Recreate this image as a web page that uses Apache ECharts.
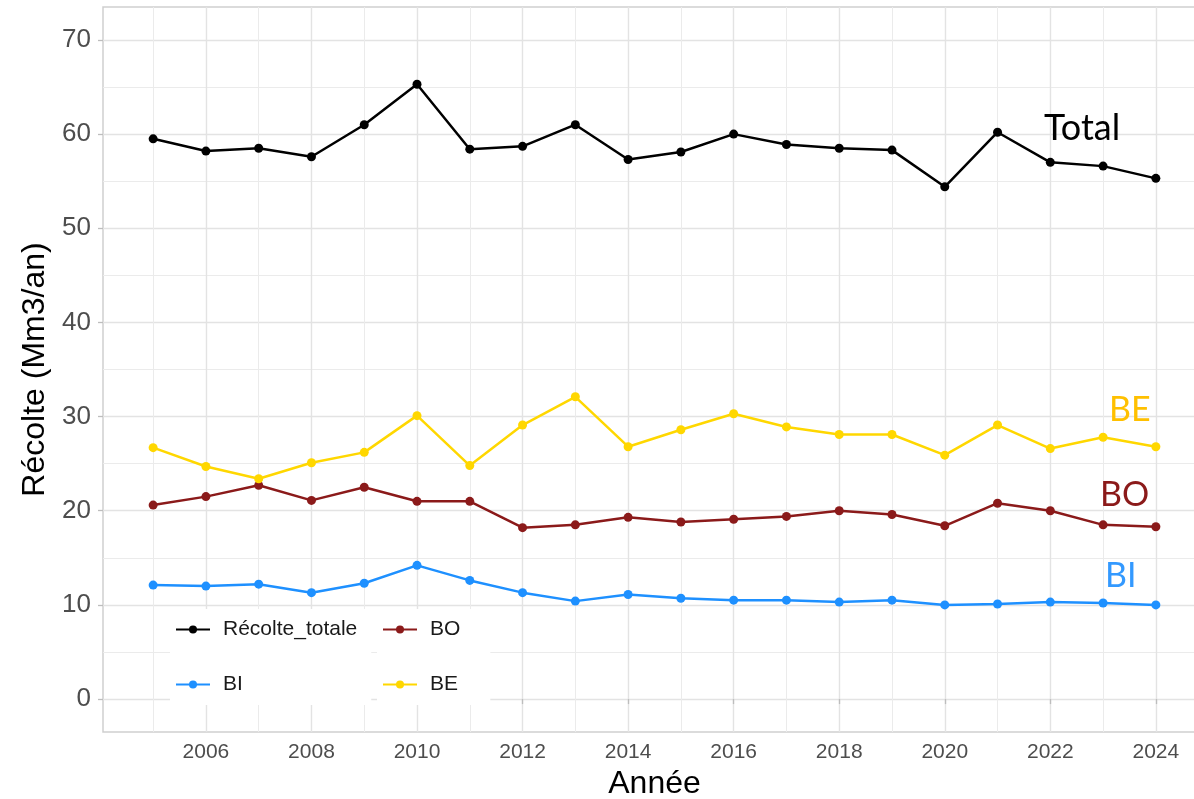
<!DOCTYPE html>
<html>
<head>
<meta charset="utf-8">
<script src="https://cdn.jsdelivr.net/npm/echarts@6/dist/echarts.min.js"></script>
<style>
html,body{margin:0;padding:0;background:#fff;}
#c{width:1194px;height:799px;}
</style>
</head>
<body>
<div id="c"></div>
<script>
const years = [2005,2006,2007,2008,2009,2010,2011,2012,2013,2014,2015,2016,2017,2018,2019,2020,2021,2022,2023,2024];
const totale = [59.5,58.2,58.5,57.6,61.0,65.3,58.4,58.7,61.0,57.3,58.1,60.0,58.9,58.5,58.3,54.4,60.2,57.0,56.6,55.3];
const be = [26.7,24.7,23.4,25.1,26.2,30.1,24.8,29.1,32.1,26.8,28.6,30.3,28.9,28.1,28.1,25.9,29.1,26.6,27.8,26.8];
const bo = [20.6,21.5,22.7,21.1,22.5,21.0,21.0,18.2,18.5,19.3,18.8,19.1,19.4,20.0,19.6,18.4,20.8,20.0,18.5,18.3];
const bi = [12.1,12.0,12.2,11.3,12.3,14.2,12.6,11.3,10.4,11.1,10.7,10.5,10.5,10.3,10.5,10.0,10.1,10.3,10.2,10.0];
const xMajorTicks = [2006,2008,2010,2012,2014,2016,2018,2020,2022,2024];
const xAllTicks = years;
const yMajorTicks = [0,10,20,30,40,50,60,70];
const yAllTicks = [0,5,10,15,20,25,30,35,40,45,50,55,60,65,70];

const pair = arr => years.map((y,i)=>[y,arr[i]]);
const chart = echarts.init(document.getElementById('c'));
const FONT = '"Liberation Sans", Arial, sans-serif';
const xMin = 2004.05, xMax = 2024.95, yMin = -3.5, yMax = 73.5;

function mkSeries(name, data, color){
  return {name, type:'line', data:pair(data), xAxisIndex:0, yAxisIndex:0,
    symbol:'circle', symbolSize:9, showSymbol:true,
    lineStyle:{color, width:2.5}, itemStyle:{color}, emphasis:{disabled:true}, z:3};
}

chart.setOption({
  animation:false,
  backgroundColor:'#fff',
  grid:{left:103, top:7, width:1103, height:725, outerBoundsMode:'none', containLabel:false,
        show:true, borderColor:'#CFCFCF', borderWidth:1.5, backgroundColor:'transparent'},
  xAxis:[
    {type:'value', min:xMin, max:xMax, position:'bottom',
     axisLine:{show:false}, axisTick:{show:false, customValues:xAllTicks},
     axisLabel:{show:false},
     splitLine:{show:true, lineStyle:{color:'#EBEBEB', width:1}}},
    {type:'value', min:xMin, max:xMax, position:'bottom',
     axisLine:{show:false},
     axisTick:{show:true, customValues:xMajorTicks, length:5, lineStyle:{color:'#BDBDBD', width:1.3}},
     axisLabel:{show:true, customValues:xMajorTicks, color:'#4D4D4D', fontSize:21, fontFamily:FONT, margin:10, formatter:v=>String(v)},
     splitLine:{show:true, lineStyle:{color:'#E3E3E3', width:1.4}},
     name:'Année', nameLocation:'middle', nameGap:34,
     nameTextStyle:{fontSize:32, color:'#000', fontFamily:FONT}}
  ],
  yAxis:[
    {type:'value', min:yMin, max:yMax, position:'left',
     axisLine:{show:false}, axisTick:{show:false, customValues:yAllTicks},
     axisLabel:{show:false},
     splitLine:{show:true, lineStyle:{color:'#EBEBEB', width:1}}},
    {type:'value', min:yMin, max:yMax, position:'left',
     axisLine:{show:false},
     axisTick:{show:true, customValues:yMajorTicks, length:5, lineStyle:{color:'#BDBDBD', width:1.3}},
     axisLabel:{show:true, customValues:yMajorTicks, color:'#4D4D4D', fontSize:26, fontFamily:FONT, margin:12},
     splitLine:{show:true, lineStyle:{color:'#E3E3E3', width:1.4}},
     name:'Récolte (Mm3/an)', nameLocation:'middle', nameGap:50, nameRotate:90,
     nameTextStyle:{fontSize:32, color:'#000', fontFamily:FONT}}
  ],
  legend:[
    {data:['Récolte_totale','BI'], orient:'vertical', left:170, top:609,
     padding:[10,14,10,5], itemGap:34, itemWidth:34, itemHeight:10,
     backgroundColor:'#fff', textStyle:{fontSize:21, color:'#1A1A1A', fontFamily:FONT, padding:[0,0,0,8]}},
    {data:['BO','BE'], orient:'vertical', left:377, top:609,
     padding:[10,30,10,5], itemGap:34, itemWidth:34, itemHeight:10,
     backgroundColor:'#fff', textStyle:{fontSize:21, color:'#1A1A1A', fontFamily:FONT, padding:[0,0,0,8]}}
  ],
  series:[
    mkSeries('Récolte_totale', totale, '#000000'),
    mkSeries('BO', bo, '#8B1A1A'),
    mkSeries('BI', bi, '#1E90FF'),
    mkSeries('BE', be, '#FFD700')
  ],
  graphic:[
    {type:'text', left:1044, top:110, z:10, style:{text:'Total', fontSize:36, fontFamily:'Lato', fill:'#000'}},
    {type:'text', left:1109, top:393, z:10, style:{text:'BE', fontSize:34, fontFamily:'Lato', fill:'#FFC000'}},
    {type:'text', left:1100, top:478, z:10, style:{text:'BO', fontSize:34, fontFamily:'Lato', fill:'#8B1A1A'}},
    {type:'text', left:1105, top:559, z:10, style:{text:'BI', fontSize:34, fontFamily:'Lato', fill:'#3399FF'}}
  ]
});
</script>
</body>
</html>
